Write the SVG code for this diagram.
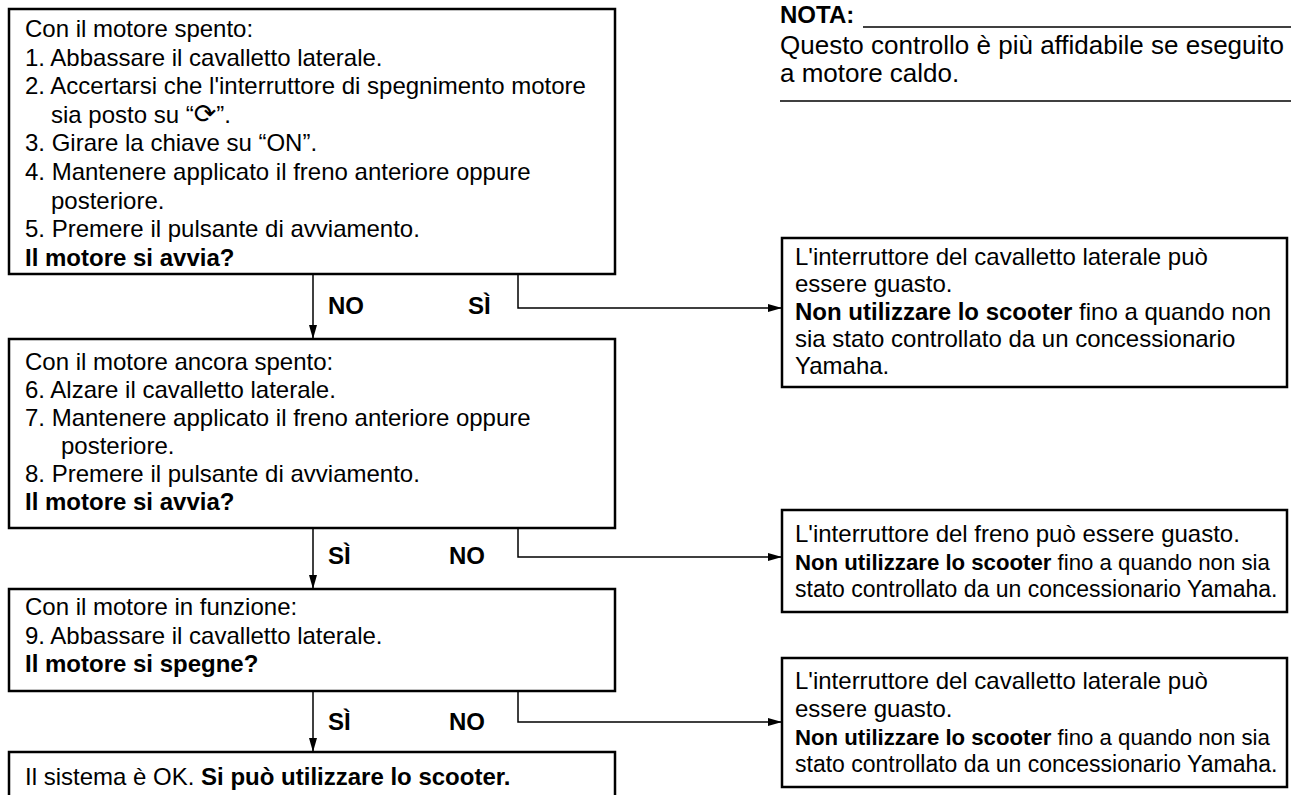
<svg xmlns="http://www.w3.org/2000/svg" width="1293" height="795" viewBox="0 0 1293 795">
<defs>
<marker id="ah" markerWidth="14" markerHeight="10" refX="14" refY="5" orient="auto" markerUnits="userSpaceOnUse">
<path d="M0,1 L14,5 L0,9 Z" fill="#000"/>
</marker>
<style>
.box{fill:#fff;stroke:#000;stroke-width:2.5}
.t{font-family:"Liberation Sans",Arial,sans-serif;font-size:24px;fill:#000}
.b{font-weight:bold}
.n{font-size:22.2px}
.n2{font-size:23px}
.big{font-size:26px}
.sym{font-family:"DejaVu Sans",sans-serif;font-size:27px}
.lbl{font-family:"Liberation Sans",Arial,sans-serif;font-size:24px;font-weight:bold;fill:#000}
.c{fill:none;stroke:#000;stroke-width:1.5}
.rule{stroke:#000;stroke-width:1.5}
</style>
</defs>
<rect width="1293" height="795" fill="#fff"/>
<g id="connectors">
<line class="c" x1="313" y1="274" x2="313" y2="339" marker-end="url(#ah)"/>
<polyline class="c" points="518,274 518,308 782,308" marker-end="url(#ah)"/>
<line class="c" x1="313" y1="528" x2="313" y2="589" marker-end="url(#ah)"/>
<polyline class="c" points="518,528 518,557 782,557" marker-end="url(#ah)"/>
<line class="c" x1="313" y1="691" x2="313" y2="752" marker-end="url(#ah)"/>
<polyline class="c" points="518,691 518,722 782,722" marker-end="url(#ah)"/>
<text class="lbl" x="328" y="314">NO</text>
<text class="lbl" x="468" y="314">SÌ</text>
<text class="lbl" x="328" y="564">SÌ</text>
<text class="lbl" x="449" y="564">NO</text>
<text class="lbl" x="328" y="730">SÌ</text>
<text class="lbl" x="449" y="730">NO</text>
</g>
<g id="nota">
<text class="t b" x="780" y="23">NOTA:</text>
<line class="rule" x1="863" y1="27" x2="1291" y2="27"/>
<text class="t big" x="780" y="54">Questo controllo è più affidabile se eseguito</text>
<text class="t big" x="780" y="82">a motore caldo.</text>
<line class="rule" x1="780" y1="101" x2="1291" y2="101"/>
</g>
<g id="step1">
<rect class="box" x="9" y="9" width="606" height="265"/>
<text class="t" x="25" y="37">Con il motore spento:</text>
<text class="t" x="25" y="65.6">1. Abbassare il cavalletto laterale.</text>
<text class="t" x="25" y="94.2">2. Accertarsi che l'interruttore di spegnimento motore</text>
<text class="t" x="51" y="122.8">sia posto su “<tspan class="sym">⟳</tspan>”.</text>
<text class="t" x="25" y="151.4">3. Girare la chiave su “ON”.</text>
<text class="t" x="25" y="180">4. Mantenere applicato il freno anteriore oppure</text>
<text class="t" x="51" y="208.6">posteriore.</text>
<text class="t" x="25" y="237.2">5. Premere il pulsante di avviamento.</text>
<text class="t b" x="25" y="265.8">Il motore si avvia?</text>
</g>
<g id="step2">
<rect class="box" x="9" y="339" width="606" height="189"/>
<text class="t" x="25" y="370">Con il motore ancora spento:</text>
<text class="t" x="25" y="398">6. Alzare il cavalletto laterale.</text>
<text class="t" x="25" y="426">7. Mantenere applicato il freno anteriore oppure</text>
<text class="t" x="61" y="454">posteriore.</text>
<text class="t" x="25" y="482">8. Premere il pulsante di avviamento.</text>
<text class="t b" x="25" y="510">Il motore si avvia?</text>
</g>
<g id="step3">
<rect class="box" x="9" y="589" width="606" height="102"/>
<text class="t" x="25" y="615">Con il motore in funzione:</text>
<text class="t" x="25" y="644">9. Abbassare il cavalletto laterale.</text>
<text class="t b" x="25" y="672">Il motore si spegne?</text>
</g>
<g id="result-ok">
<rect class="box" x="9" y="752" width="606" height="80"/>
<text class="t" x="25" y="785">Il sistema è OK. <tspan class="b">Si può utilizzare lo scooter.</tspan></text>
</g>
<g id="fault-side1">
<rect class="box" x="782" y="238" width="505" height="149"/>
<text class="t" x="795" y="265">L'interruttore del cavalletto laterale può</text>
<text class="t" x="795" y="292">essere guasto.</text>
<text class="t" x="795" y="320"><tspan class="b">Non utilizzare lo scooter</tspan> fino a quando non</text>
<text class="t" x="795" y="347">sia stato controllato da un concessionario</text>
<text class="t" x="795" y="374">Yamaha.</text>
</g>
<g id="fault-brake">
<rect class="box" x="782" y="510" width="505" height="102"/>
<text class="t" x="795" y="542">L'interruttore del freno può essere guasto.</text>
<text class="t n" x="795" y="570"><tspan class="b">Non utilizzare lo scooter</tspan> fino a quando non sia</text>
<text class="t n2" x="795" y="597">stato controllato da un concessionario Yamaha.</text>
</g>
<g id="fault-side2">
<rect class="box" x="782" y="658" width="505" height="129"/>
<text class="t" x="795" y="689">L'interruttore del cavalletto laterale può</text>
<text class="t" x="795" y="717">essere guasto.</text>
<text class="t n" x="795" y="745"><tspan class="b">Non utilizzare lo scooter</tspan> fino a quando non sia</text>
<text class="t n2" x="795" y="772">stato controllato da un concessionario Yamaha.</text>
</g>
</svg>
